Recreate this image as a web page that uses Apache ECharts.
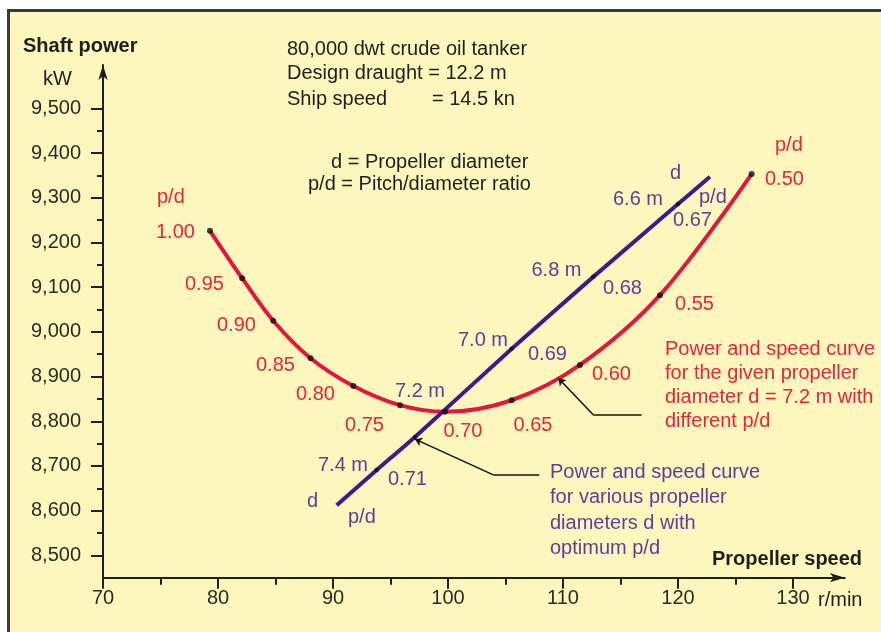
<!DOCTYPE html>
<html><head><meta charset="utf-8">
<script src="https://cdn.jsdelivr.net/npm/echarts@6/dist/echarts.min.js"></script>
<style>
html,body{margin:0;padding:0;background:#fff;}
#wrap{position:relative;width:881px;height:632px;overflow:hidden;background:#fff;}
#panel{position:absolute;left:7px;top:9px;right:0;bottom:0;background:#fdf7be;border-top:3px solid #3b3b30;border-left:3px solid #3b3b30;}
#chart{position:absolute;left:0;top:0;width:881px;height:632px;}
</style></head><body>
<div id="wrap"><div id="panel"></div><div id="chart"></div></div>
<script>
// ---- data ----
const xMajorTicks = [70, 80, 90, 100, 110, 120, 130];
const xMinorTicks = [75, 85, 95, 105, 115, 125];
const yMajorTicks = [8500, 8600, 8700, 8800, 8900, 9000, 9100, 9200, 9300, 9400, 9500];
const yMinorTicks = [8550, 8650, 8750, 8850, 8950, 9050, 9150, 9250, 9350, 9450];

// red curve: given diameter 7.2 m, different p/d
const pdLabels = ['1.00', '0.95', '0.90', '0.85', '0.80', '0.75', '0.70', '0.65', '0.60', '0.55', '0.50'];
const redSpeed = [79.3, 82.1, 84.8, 88.05, 91.77, 95.83, 99.74, 105.54, 111.48, 118.43, 126.4];
const redPower = [9226, 9120, 9025, 8941, 8879, 8836, 8821, 8847, 8926, 9082, 9353];

// blue line: various diameters with optimum p/d
const blueSpeed = [90.32, 93.80, 97.13, 105.54, 112.63, 120.0, 122.78];
const bluePower = [8612, 8691, 8765, 8962, 9123, 9286, 9347];
const diameterLabels = ['7.4 m', '7.2 m', '7.0 m', '6.8 m', '6.6 m']; // blue points 1..5
const optimumPdLabels = ['0.71', '0.69', '0.68', '0.67'];

// leader lines (pointer lines to annotations)
const redLeaderSpeed = [116.83, 112.65, 109.6];
const redLeaderPower = [8814, 8814, 8896];
const blueLeaderSpeed = [107.94, 103.94, 97.13];
const blueLeaderPower = [8680, 8680, 8760];

// ---- styles / layout ----
const FONT = '"Liberation Sans", Arial, Helvetica, sans-serif';
const RED_LINE = '#e3163c', RED_TEXT = '#e8233f';
const BLUE_LINE = '#3c1a8f', BLUE_TEXT = '#5b3f98';
const INK = '#1e1e1a';

const redLabelPos = [[156,232],[185,284],[217,325],[256,365.5],[296,394.5],[345,425.5],[443.5,431],[513.5,425.5],[592,374],[675,304],[765,179]];
const diamLabelPos = [[318,465],[395,391],[458,340.5],[531.5,270],[613,199]];
const optPdPos = [[388,479],[528,354],[603,288],[673,220]];

function pts(xs, ys){ return xs.map((x,i)=>[x, ys[i]]); }

const texts = [];
function T(text, x, y, fill, opts){
  opts = opts || {};
  texts.push({type:'text', x:x, y:y, z:100, silent:true,
    style:{text:text, fill:fill, font:(opts.bold?'bold ':'') + (opts.size||20) + 'px ' + FONT,
      verticalAlign:'middle', align:opts.align||'left'}});
}
pdLabels.forEach((t,i)=>T(t, redLabelPos[i][0], redLabelPos[i][1], RED_TEXT));
diameterLabels.forEach((t,i)=>T(t, diamLabelPos[i][0], diamLabelPos[i][1], BLUE_TEXT));
optimumPdLabels.forEach((t,i)=>T(t, optPdPos[i][0], optPdPos[i][1], BLUE_TEXT));
T('p/d', 157, 197.5, RED_TEXT);
T('p/d', 775, 145, RED_TEXT);
T('d', 670, 173, BLUE_TEXT);
T('p/d', 699, 197, BLUE_TEXT);
T('d', 307, 501.5, BLUE_TEXT);
T('p/d', 348, 517, BLUE_TEXT);

T('Shaft power', 23, 46, INK, {bold:true});
T('kW', 43, 79, INK);
T('Propeller speed', 712, 559, INK, {bold:true});
T('r/min', 818, 600.5, INK);

T('80,000 dwt crude oil tanker', 287, 49, INK);
T('Design draught = 12.2 m', 287, 73.5, INK);
T('Ship speed', 287, 99, INK);
T('= 14.5 kn', 432, 99, INK);
T('d = Propeller diameter', 331, 162.5, INK);
T('p/d = Pitch/diameter ratio', 308, 184.5, INK);

['Power and speed curve','for the given propeller','diameter d = 7.2 m with','different p/d']
  .forEach((t,i)=>T(t, 665, 349 + i*24.3, RED_TEXT));
['Power and speed curve','for various propeller','diameters d with','optimum p/d']
  .forEach((t,i)=>T(t, 550, 472.5 + i*25.3, BLUE_TEXT));

const axisLineStyle = {color: INK, width: 2};
const chart = echarts.init(document.getElementById('chart'), null, {renderer:'canvas'});
chart.setOption({
  backgroundColor: 'transparent',
  animation: false,
  grid: {left: 103, right: 36.25, top: 65, bottom: 54.3, containLabel: false},
  xAxis: [
    {type:'value', min:70, max:134.5, position:'bottom', splitLine:{show:false},
      axisLine:{show:true, onZero:false, symbol:['none','arrow'], symbolSize:[7,15], lineStyle:axisLineStyle},
      axisTick:{show:true, customValues:xMajorTicks, length:11, lineStyle:{color:INK, width:2}},
      axisLabel:{show:true, customValues:xMajorTicks, margin:11, color:'#2b2b25', fontSize:20, fontFamily:FONT}},
    {type:'value', min:70, max:134.5, position:'bottom', offset:0, splitLine:{show:false},
      axisLine:{show:false, onZero:false},
      axisTick:{show:true, customValues:xMinorTicks, length:7, lineStyle:{color:INK, width:2}},
      axisLabel:{show:false}}
  ],
  yAxis: [
    {type:'value', min:8450, max:9597, position:'left', splitLine:{show:false},
      axisLine:{show:true, onZero:false, symbol:['none','arrow'], symbolSize:[7,15], lineStyle:axisLineStyle},
      axisTick:{show:true, customValues:yMajorTicks, length:12, lineStyle:{color:INK, width:2}},
      axisLabel:{show:true, customValues:yMajorTicks, margin:22, color:'#2b2b25', fontSize:20, fontFamily:FONT,
        formatter:v=>Number(v).toLocaleString('en-US')}},
    {type:'value', min:8450, max:9597, position:'left', offset:0, splitLine:{show:false},
      axisLine:{show:false, onZero:false},
      axisTick:{show:true, customValues:yMinorTicks, length:6, lineStyle:{color:INK, width:2}},
      axisLabel:{show:false}}
  ],
  series: [
    {type:'line', name:'red', data:pts(redSpeed, redPower), smooth:0.35, symbol:'none', z:3,
      lineStyle:{color:RED_LINE, width:4}},
    {type:'line', name:'blue', data:pts(blueSpeed, bluePower), smooth:0.15, symbol:'none', z:4,
      lineStyle:{color:BLUE_LINE, width:4}},
    {type:'scatter', data:pts(redSpeed, redPower), symbol:'circle', symbolSize:6, z:6,
      itemStyle:{color:'#111'}},
    {type:'scatter', data:pts(blueSpeed.slice(1,6), bluePower.slice(1,6)), symbol:'circle', symbolSize:4.5, z:6,
      itemStyle:{color:'#111'}},
    {type:'lines', coordinateSystem:'cartesian2d', z:5, symbol:['none','arrow'], symbolSize:7,
      lineStyle:{color:'#111', width:1.5, opacity:1, curveness:0},
      data:[
        {coords:[[redLeaderSpeed[0],redLeaderPower[0]],[redLeaderSpeed[1],redLeaderPower[1]]], symbol:['none','none']},
        {coords:[[redLeaderSpeed[1],redLeaderPower[1]],[redLeaderSpeed[2],redLeaderPower[2]]]},
        {coords:[[blueLeaderSpeed[0],blueLeaderPower[0]],[blueLeaderSpeed[1],blueLeaderPower[1]]], symbol:['none','none']},
        {coords:[[blueLeaderSpeed[1],blueLeaderPower[1]],[blueLeaderSpeed[2],blueLeaderPower[2]]]}
      ]}
  ],
  graphic: texts
});
</script></body></html>
